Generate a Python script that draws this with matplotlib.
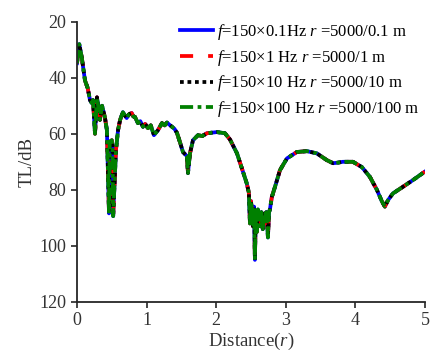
import matplotlib
matplotlib.use("Agg")
import matplotlib.pyplot as plt

plt.rcParams['font.family'] = ['Liberation Serif', 'DejaVu Serif']
plt.rcParams['mathtext.fontset'] = 'custom'
plt.rcParams['mathtext.rm'] = 'Liberation Serif'
plt.rcParams['mathtext.it'] = 'Liberation Serif:italic'

distance = [0.00, 0.033, 0.07, 0.115, 0.154, 0.187, 0.21, 0.23, 0.259, 0.287, 0.31, 0.33, 0.36, 0.38,
            0.40, 0.43, 0.46, 0.47, 0.50, 0.51, 0.52, 0.56, 0.59, 0.62, 0.66, 0.69, 0.714, 0.75, 0.786, 0.81,
            0.833, 0.876, 0.91, 0.948, 0.98, 1.02, 1.06, 1.106, 1.164, 1.221, 1.26, 1.293, 1.33,
            1.365, 1.40, 1.437, 1.48, 1.523, 1.58, 1.595, 1.624, 1.667, 1.739, 1.80, 1.868, 1.94,
            2.01, 2.07, 2.126, 2.198, 2.30, 2.385, 2.44, 2.47, 2.486, 2.50, 2.514, 2.53, 2.545, 2.557,
            2.57, 2.586, 2.60, 2.61, 2.63, 2.65, 2.67, 2.69, 2.70, 2.72, 2.73, 2.744, 2.76, 2.773,
            2.80, 2.845, 2.917, 3.017, 3.16, 3.305, 3.448,
            3.59, 3.68, 3.75, 3.82, 3.966, 4.095, 4.21, 4.31, 4.38, 4.425, 4.47, 4.54, 4.68, 4.83,
            5.00]
tl_db = [34.8, 28.0, 33.0, 41.0, 43.7, 48.0, 49.0, 48.0, 60.0, 47.0, 51.0, 55.0, 50.0, 52.0,
         54.0, 58.7, 88.4, 63.0, 62.3, 65.0, 89.4, 65.8, 58.7, 55.0, 52.3, 53.5, 54.4, 53.0, 52.6, 53.8,
         54.0, 56.2, 55.5, 57.5, 56.5, 58.0, 57.0, 60.5, 58.7, 56.2, 57.0, 56.0, 56.8,
         57.5, 58.2, 59.7, 63.0, 66.5, 68.0, 74.0, 67.0, 62.3, 60.5, 60.8, 59.8, 59.6,
         59.4, 59.6, 59.8, 62.0, 67.0, 73.5, 77.7, 81.0, 92.0, 84.0, 87.3, 93.0, 86.0, 105.0,
         88.0, 95.0, 87.0, 92.0, 93.0, 88.0, 94.0, 88.5, 92.0, 88.0, 89.6, 97.0, 88.0, 87.0,
         82.6, 79.0, 73.0, 68.8, 66.5, 66.2, 67.0,
         69.4, 70.5, 70.3, 70.0, 70.0, 71.9, 75.4, 80.0, 84.0, 86.0, 83.7, 81.3, 79.0, 76.5,
         73.5]

labels = [r"$f$=150×0.1Hz $r$ =5000/0.1 m",
          r"$f$=150×1 Hz $r$ =5000/1 m",
          r"$f$=150×10 Hz $r$ =5000/10 m",
          r"$f$=150×100 Hz $r$ =5000/100 m"]
colors = ['#0000ff', '#ff0000', '#000000', '#008000']
styles = ['-', (0, (3.5, 4)), (0, (1, 1)), (0, (3.5, 1.2, 1, 1.2))]

fig = plt.figure(figsize=(4.34, 3.59), dpi=100)
ax = fig.add_axes([0.1774, 0.159, 0.8016, 0.7806])

for lab, c, ls in zip(labels, colors, styles):
    ax.plot(distance, tl_db, color=c, linestyle=ls, linewidth=2.7, label=lab)

ax.set_xlim(0, 5)
ax.set_ylim(120, 20)
ax.set_xticks([0, 1, 2, 3, 4, 5])
ax.set_yticks([20, 40, 60, 80, 100, 120])
ax.spines['top'].set_visible(False)
ax.spines['right'].set_visible(False)
for s in ['left', 'bottom']:
    ax.spines[s].set_linewidth(1.3)
    ax.spines[s].set_color('#262626')
ax.tick_params(direction='out', length=4, width=1.2, colors='#262626', labelsize=13, labelcolor='#333333')
ax.set_xlabel(r"Distance($r$)", fontsize=13.5, color='#333333', labelpad=1)
ax.set_ylabel("TL/dB", fontsize=13.5, color='#333333', labelpad=3)

leg = ax.legend(loc='upper left', bbox_to_anchor=(0.296, 1.0), frameon=False, fontsize=12,
                handlelength=2.0, handletextpad=0.25, labelspacing=0.35, borderaxespad=0, borderpad=0)

fig.savefig("out.png", dpi=100)
